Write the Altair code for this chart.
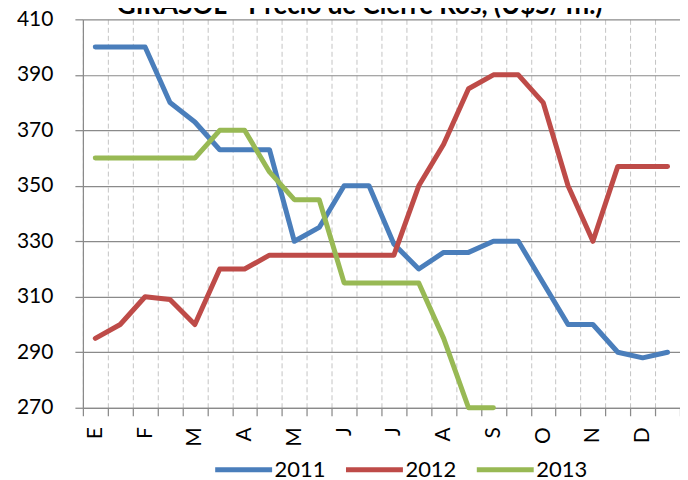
import json
import altair as alt
import pandas as pd

title_text = "GIRASOL - Precio de Cierre Ros, (U$S/Tn.)"
months = ["E", "F", "M", "A", "M", "J", "J", "A", "S", "O", "N", "D"]
periods = [f"{i + 1:02d}" for i in range(24)]
series = ["2011", "2012", "2013"]
v2011 = [400, 400, 400, 380, 373, 363, 363, 363, 330, 335, 350, 350,
         329, 320, 326, 326, 330, 330, 315, 300, 300, 290, 288, 290]
v2012 = [295, 300, 310, 309, 300, 320, 320, 325, 325, 325, 325, 325,
         325, 350, 365, 385, 390, 390, 380, 350, 330, 357, 357, 357]
v2013 = [360, 360, 360, 360, 360, 370, 370, 355, 345, 345, 315, 315,
         315, 315, 295, 270, 270]
y_ticks = [270, 290, 310, 330, 350, 370, 390, 410]
colors = ["#4a7ebb", "#be4b48", "#98b954"]

rows = []
for name, vals in zip(series, [v2011, v2012, v2013]):
    for p, v in zip(periods, vals):
        rows.append({"periodo": p, "precio": v, "serie": name})
df = pd.DataFrame(rows)

label_expr = ("toNumber(datum.value) % 2 == 1 ? " + json.dumps(months) +
              "[floor(toNumber(datum.value) / 2)] : ''")

FONT = "Lato"

lines = alt.Chart(df).mark_line(strokeWidth=5, strokeCap="round", strokeJoin="round").encode(
    x=alt.X("periodo:O", sort=periods,
            scale=alt.Scale(type="band", paddingInner=0, paddingOuter=0),
            axis=alt.Axis(title=None, tickBand="extent", labelExpr=label_expr,
                          labelAngle=270, labelAlign="right", labelBaseline="middle",
                          labelFontSize=21, labelPadding=11, labelColor="black",
                          tickSize=8, tickColor="#8a8a8a", tickWidth=1.25,
                          domainColor="#8a8a8a", domainWidth=1.25,
                          grid=True, gridColor="#c4c4c4", gridDash=[5, 3], gridWidth=1)),
    y=alt.Y("precio:Q",
            scale=alt.Scale(domain=[270, 410], nice=False, zero=False),
            axis=alt.Axis(title=None, values=y_ticks, labelFontSize=21, labelPadding=22,
                          labelColor="black", tickSize=8, tickColor="#8a8a8a", tickWidth=1.25,
                          domainColor="#8a8a8a", domainWidth=1.25,
                          grid=True, gridColor="#8a8a8a", gridWidth=1.25)),
    color=alt.Color("serie:N", scale=alt.Scale(domain=series, range=colors),
                    legend=alt.Legend(title=None, orient="none", direction="horizontal",
                                      legendX=130, legendY=420, padding=0,
                                      symbolType="stroke", symbolSize=3249,
                                      symbolStrokeWidth=5, labelFontSize=22,
                                      labelOffset=0, columnPadding=9, labelColor="black")),
)

title = alt.Chart(pd.DataFrame({"t": [title_text]})).mark_text(
    align="left", baseline="alphabetic", fontSize=26, fontWeight="bold",
    font=FONT, color="black"
).encode(x=alt.value(34), y=alt.value(-5), text="t:N")

chart = alt.layer(lines, title).properties(
    width=598,
    height=389,
    autosize=alt.AutoSizeParams(type="none"),
    padding={"left": 75, "top": 11, "right": 0, "bottom": 72},
).configure(font=FONT).configure_view(stroke=None)

chart.save("out.html", embed_options={"renderer": "svg", "actions": False})
